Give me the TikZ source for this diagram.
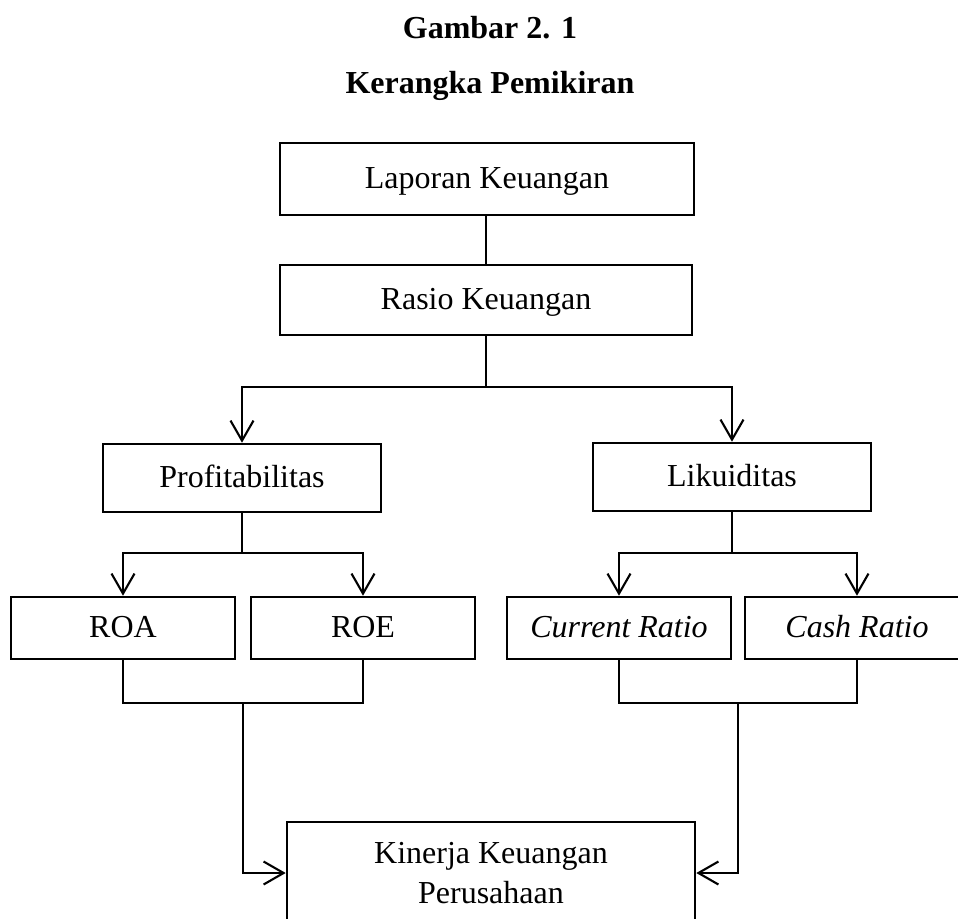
\documentclass[tikz,border=0pt]{standalone}
\usepackage{fontspec}
\setmainfont{Liberation Serif}
\usetikzlibrary{arrows.meta,calc}
\begin{document}
\begin{tikzpicture}[x=1pt,y=-1pt,
  box/.style={draw,line width=2.6pt,rectangle,inner sep=0pt,font=\fontsize{32}{40}\selectfont,align=center},
  onel/.style={box,text height=24pt,text depth=5pt},
  conn/.style={line width=2.1pt},
  arr/.style={conn,-{Straight Barb[length=20pt,width=23pt,line width=2.1pt]}},
  ttl/.style={font=\fontsize{32}{40}\selectfont\bfseries,anchor=base}]
\useasboundingbox (0,0) rectangle (958,918);
\clip (0,0) rectangle (958,918);
\node[ttl] (t1) at (490,38) {Gambar 2. 1};
\node[ttl] (t2) at (490,93) {Kerangka Pemikiran};
\node[onel,minimum width=414pt,minimum height=72pt] (lap) at (487,179) {Laporan Keuangan};
\node[onel,minimum width=412pt,minimum height=70pt] (ras) at (486,300) {Rasio Keuangan};
\node[onel,minimum width=278pt,minimum height=68pt] (prof) at (242,478) {Profitabilitas};
\node[onel,minimum width=278pt,minimum height=68pt] (lik) at (732,477) {Likuiditas};
\node[onel,minimum width=224pt,minimum height=62pt] (roa) at (123,628) {ROA};
\node[onel,minimum width=224pt,minimum height=62pt] (roe) at (363,628) {ROE};
\node[onel,minimum width=224pt,minimum height=62pt] (cur) at (619,628) {\itshape Current Ratio};
\node[onel,minimum width=224pt,minimum height=62pt] (cash) at (857,628) {\itshape Cash Ratio};
\node[box,minimum width=408pt,minimum height=102pt] (kin) at (491,873) {Kinerja Keuangan\\Perusahaan};
% connectors
\draw[conn] (lap.south) -- (ras.south |- lap.south) -- (ras.north);
\draw[arr] (ras.south) -- ++(0,51) -| (prof.north);
\draw[arr] (ras.south) -- ++(0,51) -| (lik.north);
\draw[arr] (prof.south) -- ++(0,40) -| (roa.north);
\draw[arr] (prof.south) -- ++(0,40) -| (roe.north);
\draw[arr] (lik.south) -- ++(0,41) -| (cur.north);
\draw[arr] (lik.south) -- ++(0,41) -| (cash.north);
\draw[conn] (roa.south) -- ++(0,43) -| (roe.south);
\draw[conn] (cur.south) -- ++(0,43) -| (cash.south);
\coordinate (jl) at ($(roa.south)!0.5!(roe.south)+(0,43)$);
\coordinate (jr) at ($(cur.south)!0.5!(cash.south)+(0,43)$);
\draw[arr] (jl) |- (kin.west);
\draw[arr] (jr) |- (kin.east);
\end{tikzpicture}
\end{document}
